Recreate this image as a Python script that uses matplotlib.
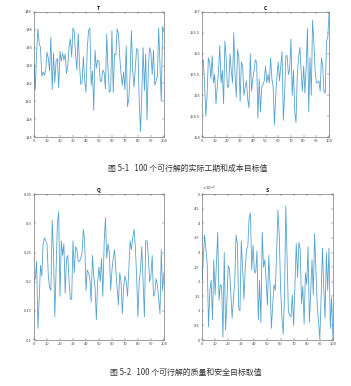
import matplotlib.pyplot as plt
import numpy as np
from matplotlib.ticker import FuncFormatter

plt.rcParams['font.family'] = ['Noto Sans CJK SC', 'DejaVu Sans']

# actual duration T
T = [134.2, 131.3, 135.5, 138.1, 136.5, 136.0, 132.8, 133.3, 132.9, 133.5,
     135.5, 134.8, 133.4, 137.2, 131.3, 135.4, 132.1, 134.5, 134.8, 131.5,
     135.6, 134.5, 135.4, 134.6, 135.3, 133.1, 134.0, 136.1, 137.0, 135.0,
     138.2, 137.8, 135.2, 133.5, 137.6, 134.2, 131.9, 132.1, 135.0, 132.4,
     131.0, 136.0, 137.9, 138.2, 131.8, 133.4, 129.0, 135.7, 133.7, 134.6,
     134.5, 132.2, 132.3, 133.5, 133.2, 131.4, 137.5, 133.5, 131.0, 131.2,
     137.9, 131.0, 135.3, 135.2, 138.1, 137.6, 135.0, 133.1, 131.8, 133.3,
     131.3, 136.2, 129.4, 130.3, 133.0, 137.9, 133.5, 131.6, 133.8, 135.9,
     135.8, 130.0, 126.6, 131.0, 136.0, 131.2, 135.3, 127.9, 133.5, 136.0,
     135.5, 133.0, 135.7, 131.8, 132.3, 132.8, 138.2, 134.0, 130.0, 138.4,
     137.8]

# cost C
C = [155.8, 155.85, 155.3, 154.5, 155.0, 155.9, 155.8, 155.4, 155.95, 155.3,
     155.5, 154.8, 155.2, 155.6, 156.2, 155.3, 155.6, 154.8, 156.3, 155.9,
     155.2, 155.2, 156.0, 155.6, 155.3, 156.5, 155.5, 154.95, 156.1, 155.9,
     154.85, 155.8, 155.7, 155.0, 155.2, 155.35, 154.9, 154.7, 156.0, 155.1,
     155.4, 155.6, 155.85, 155.8, 154.45, 155.4, 154.6, 155.2, 155.25, 155.35,
     155.7, 155.3, 155.5, 155.3, 155.9, 155.4, 155.2, 154.3, 155.0, 155.45,
     155.8, 155.35, 155.7, 156.05, 154.4, 155.0, 155.95, 155.95, 155.5, 155.6,
     156.35, 155.0, 155.6, 154.6, 154.35, 155.5, 155.9, 156.15, 155.6, 155.1,
     155.7, 155.05, 155.7, 156.6, 154.6, 155.9, 155.0, 156.8, 156.3, 155.6,
     155.3, 155.3, 155.35, 155.1, 155.9, 155.7, 155.1, 155.05, 156.3, 156.4,
     157.0]

# quality Q
Q = [0.203, 0.205, 0.235, 0.12, 0.17, 0.228, 0.21, 0.265, 0.275, 0.27,
     0.265, 0.21, 0.19, 0.185, 0.305, 0.25, 0.14, 0.22, 0.3, 0.32,
     0.175, 0.27, 0.245, 0.265, 0.18, 0.24, 0.245, 0.2, 0.17, 0.17,
     0.27, 0.215, 0.26, 0.255, 0.235, 0.235, 0.24, 0.25, 0.29, 0.27,
     0.185, 0.22, 0.215, 0.205, 0.165, 0.245, 0.21, 0.19, 0.135, 0.2,
     0.225, 0.2, 0.24, 0.175, 0.265, 0.31, 0.24, 0.265, 0.25, 0.185,
     0.22, 0.24, 0.255, 0.22, 0.19, 0.16, 0.215, 0.2, 0.145, 0.19,
     0.21, 0.2, 0.175, 0.22, 0.27, 0.255, 0.275, 0.29, 0.26, 0.21,
     0.14, 0.2, 0.22, 0.26, 0.2, 0.14, 0.27, 0.27, 0.245, 0.2,
     0.21, 0.245, 0.175, 0.18, 0.205, 0.195, 0.17, 0.145, 0.255, 0.185,
     0.215]

# safety S, in units of 1e-3
S = [2.05, 2.8, 3.6, 3.1, 2.6, 0.45, 1.7, 2.05, 0.7, 2.75,
     1.55, 2.6, 3.7, 1.35, 1.9, 1.85, 0.1, 3.0, 0.35, 1.3,
     2.55, 2.45, 1.6, 0.75, 1.4, 2.0, 3.6, 3.3, 1.1, 1.0,
     3.4, 2.5, 1.4, 2.4, 3.1, 3.2, 4.2, 4.35, 2.4, 3.25,
     2.35, 2.3, 3.05, 0.7, 2.05, 0.6, 3.7, 2.5, 2.75, 2.0,
     1.2, 2.9, 1.9, 0.4, 1.2, 1.9, 1.7, 3.0, 4.45, 3.6,
     1.8, 0.8, 0.2, 1.5, 4.6, 2.8, 0.95, 0.85, 0.8, 1.55,
     0.5, 1.9, 3.3, 2.15, 3.35, 3.1, 1.25, 1.85, 0.55, 2.3,
     1.9, 3.2, 0.6, 1.6, 2.75, 1.55, 3.65, 2.4, 1.2, 0.6,
     0.05, 1.5, 3.15, 1.8, 0.75, 3.0, 1.7, 3.15, 0.4, 1.45,
     0.05]

xticks = list(range(0, 101, 10))
line_color = '#55a3cf'

fig = plt.figure(figsize=(3.51, 3.86), dpi=100)

panels = [
    ('T', T, [0.0969, 0.645, 0.370, 0.324], (126, 140), np.arange(126, 141, 2)),
    ('C', C, [0.5755, 0.645, 0.362, 0.324], (154, 157), np.arange(154, 157.01, 0.5)),
    ('Q', Q, [0.0969, 0.119, 0.370, 0.378], (0.1, 0.35), np.arange(0.1, 0.351, 0.05)),
    ('S', S, [0.5755, 0.119, 0.373, 0.378], (0, 5), np.arange(0, 5.01, 0.5)),
]

for name, vals, pos, ylim, yt in panels:
    ax = fig.add_axes(pos)
    ax.plot(np.arange(len(vals)), vals, color=line_color, lw=0.6)
    ax.set_xlim(0, 100)
    ax.set_ylim(*ylim)
    ax.set_xticks(xticks)
    ax.set_yticks(yt)
    ax.yaxis.set_major_formatter(FuncFormatter(lambda v, p: '%g' % round(v, 3)))
    ax.tick_params(direction='in', length=1.5, width=0.3, labelsize=2.9,
                   pad=1.5, top=True, right=True, colors='#444444')
    for sp in ax.spines.values():
        sp.set_linewidth(0.4)
        sp.set_color('#555555')
    ax.set_title(name, fontsize=3.6, fontweight='bold', pad=1.5)
    if name == 'S':
        ax.text(0.0, 1.005, r'$\times10^{-3}$', transform=ax.transAxes,
                fontsize=2.8, color='#444444', va='bottom', ha='left')

fig.text(0.535, 1 - 168 / 386, '图 5-1   100 个可行解的实际工期和成本目标值',
         ha='center', va='center', fontsize=5.7, color='#333333')
fig.text(0.53, 1 - 372 / 386, '图 5-2   100 个可行解的质量和安全目标取值',
         ha='center', va='center', fontsize=5.7, color='#333333')

fig.savefig('out.png', dpi=100)
